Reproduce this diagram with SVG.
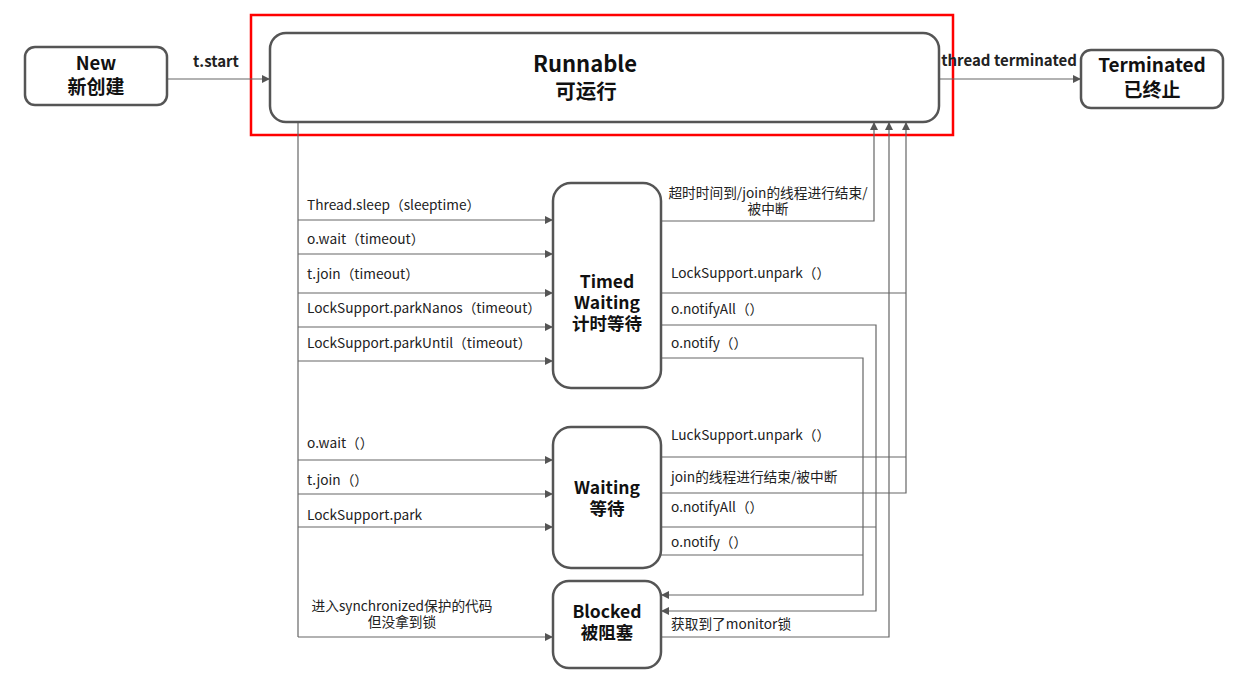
<svg xmlns="http://www.w3.org/2000/svg" width="1239" height="681" viewBox="0 0 1239 681">
<style>
.node{fill:#fff;stroke:#555;stroke-width:2.5}
.t{font-family:"Noto Sans CJK SC","Noto Sans",sans-serif;font-weight:bold;font-size:17.5px;fill:#111;text-anchor:middle}
.l{font-family:"Noto Sans CJK SC","Noto Sans",sans-serif;font-size:13.7px;fill:#222}
.c{fill:none;stroke:#666;stroke-width:1.2}
</style>
<defs>
<marker id="a" viewBox="0 0 10 10" refX="10" refY="5" markerWidth="8" markerHeight="8" markerUnits="userSpaceOnUse" orient="auto">
<path d="M0,0L10,5L0,10z" fill="#555"/>
</marker>
</defs>
<rect x="251" y="15" width="702" height="120" fill="none" stroke="#f00" stroke-width="2.5"/>
<g id="connectors">
<path class="c" d="M167,79H270" marker-end="url(#a)"/>
<path class="c" d="M939,79H1081" marker-end="url(#a)"/>
<path class="c" d="M298,122V637"/>
<path class="c" d="M298,220H553" marker-end="url(#a)"/>
<path class="c" d="M298,254H553" marker-end="url(#a)"/>
<path class="c" d="M298,293H553" marker-end="url(#a)"/>
<path class="c" d="M298,327H553" marker-end="url(#a)"/>
<path class="c" d="M298,361H553" marker-end="url(#a)"/>
<path class="c" d="M298,460H553" marker-end="url(#a)"/>
<path class="c" d="M298,494H553" marker-end="url(#a)"/>
<path class="c" d="M298,527H553" marker-end="url(#a)"/>
<path class="c" d="M298,637H553" marker-end="url(#a)"/>
<path class="c" d="M661,221H874V122" marker-end="url(#a)"/>
<path class="c" d="M661,293H906"/>
<path class="c" d="M661,457H906"/>
<path class="c" d="M661,493H906V122" marker-end="url(#a)"/>
<path class="c" d="M661,637H889V122" marker-end="url(#a)"/>
<path class="c" d="M661,325H876V611H661" marker-end="url(#a)"/>
<path class="c" d="M661,527H876"/>
<path class="c" d="M661,358H863V595H661" marker-end="url(#a)"/>
<path class="c" d="M661,555H863"/>
</g>
<g id="labels">
<text class="l" x="216" y="67" text-anchor="middle" style="font-weight:bold;font-size:15px">t.start</text>
<text class="l" x="1009" y="66" text-anchor="middle" style="font-weight:bold;font-size:15px">thread terminated</text>
<text class="l" x="307" y="210">Thread.sleep（sleeptime）</text>
<text class="l" x="307" y="244">o.wait（timeout）</text>
<text class="l" x="307" y="279">t.join（timeout）</text>
<text class="l" x="307" y="313">LockSupport.parkNanos（timeout）</text>
<text class="l" x="307" y="348">LockSupport.parkUntil（timeout）</text>
<text class="l" x="307" y="448">o.wait（）</text>
<text class="l" x="307" y="485">t.join（）</text>
<text class="l" x="307" y="520">LockSupport.park</text>
<text class="l" x="402" y="611" text-anchor="middle">进入synchronized保护的代码</text>
<text class="l" x="402" y="627" text-anchor="middle">但没拿到锁</text>
<text class="l" x="768" y="198" text-anchor="middle">超时时间到/join的线程进行结束/</text>
<text class="l" x="768" y="214" text-anchor="middle">被中断</text>
<text class="l" x="671" y="278">LockSupport.unpark（）</text>
<text class="l" x="671" y="314">o.notifyAll（）</text>
<text class="l" x="671" y="348">o.notify（）</text>
<text class="l" x="671" y="440">LuckSupport.unpark（）</text>
<text class="l" x="671" y="482">join的线程进行结束/被中断</text>
<text class="l" x="671" y="512">o.notifyAll（）</text>
<text class="l" x="671" y="547">o.notify（）</text>
<text class="l" x="671" y="629">获取到了monitor锁</text>
</g>
<g id="new">
<rect class="node" x="25" y="47" width="142" height="58" rx="10"/>
<text class="t" x="96" y="70" style="font-size:18.5px">New</text>
<text class="t" x="96" y="94" style="font-size:19px">新创建</text>
</g>
<g id="runnable">
<rect class="node" x="270" y="33" width="669" height="89" rx="16"/>
<text class="t" x="585" y="72" style="font-size:22px">Runnable</text>
<text class="t" x="586" y="99" style="font-size:20.5px">可运行</text>
</g>
<g id="terminated">
<rect class="node" x="1081" y="50" width="142" height="58" rx="10"/>
<text class="t" x="1152" y="72" style="font-size:19px">Terminated</text>
<text class="t" x="1152" y="97" style="font-size:19px">已终止</text>
</g>
<g id="timedwaiting">
<rect class="node" x="553" y="183" width="108" height="205" rx="18"/>
<text class="t" x="607" y="288">Timed</text>
<text class="t" x="607" y="309">Waiting</text>
<text class="t" x="607" y="330">计时等待</text>
</g>
<g id="waiting">
<rect class="node" x="553" y="427" width="108" height="141" rx="18"/>
<text class="t" x="607" y="494">Waiting</text>
<text class="t" x="607" y="515">等待</text>
</g>
<g id="blocked">
<rect class="node" x="553" y="581" width="108" height="87" rx="16"/>
<text class="t" x="607" y="618">Blocked</text>
<text class="t" x="607" y="639">被阻塞</text>
</g>
</svg>
